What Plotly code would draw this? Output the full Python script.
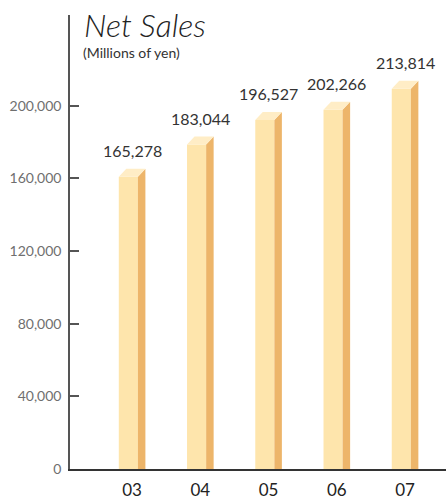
import plotly.graph_objects as go

# Net sales by fiscal year (millions of yen)
years = ["03", "04", "05", "06", "07"]
net_sales = [165278, 183044, 196527, 202266, 213814]
y_ticks = [0, 40000, 80000, 120000, 160000, 200000]

FRONT = "#FEE5AC"
SIDE = "#EDB56A"
TOP = "#FFEDC6"

front_w = 0.28      # width of the front face (x units)
side_w = 0.11       # horizontal depth of the side face (x units)
depth_y = 4400      # vertical depth of the top face (y units)

fig = go.Figure()

for i, v in enumerate(net_sales):
    x0 = i - (front_w + side_w) / 2
    x1 = x0 + front_w
    x2 = x1 + side_w
    yf = v - depth_y
    # front face
    fig.add_trace(go.Scatter(
        x=[x0, x1, x1, x0, x0], y=[0, 0, yf, yf, 0],
        fill="toself", fillcolor=FRONT, mode="none", hoverinfo="skip"))
    # side face
    fig.add_trace(go.Scatter(
        x=[x1, x2, x2, x1, x1], y=[0, 0, v, yf, 0],
        fill="toself", fillcolor=SIDE, mode="none", hoverinfo="skip"))
    # top face
    fig.add_trace(go.Scatter(
        x=[x0, x1, x2, x0 + side_w, x0], y=[yf, yf, v, v, yf],
        fill="toself", fillcolor=TOP, mode="none", hoverinfo="skip"))

    # value label above the bar
    fig.add_annotation(
        x=i, y=v, xref="x", yref="y", xanchor="center", yanchor="bottom",
        yshift=7, showarrow=False, text=f"{v:,}",
        font=dict(family="Lato", size=16, color="#333333"))

fig.update_layout(
    width=446, height=501,
    margin=dict(l=70, r=0, t=15, b=32, autoexpand=False),
    paper_bgcolor="white", plot_bgcolor="white",
    showlegend=False,
    xaxis=dict(
        range=[-0.91, 4.60], automargin=False,
        tickmode="array", tickvals=list(range(len(years))), ticktext=years,
        showgrid=False, zeroline=False,
        showline=True, linecolor="#333333", linewidth=1.5,
        ticks="", ticklabelstandoff=5,
        tickfont=dict(family="Lato", size=17, color="#222222"),
    ),
    yaxis=dict(
        range=[0, 250000], automargin=False,
        tickmode="array", tickvals=y_ticks,
        ticktext=[f"{t:,}" for t in y_ticks],
        showgrid=False, zeroline=False,
        showline=True, linecolor="#555555", linewidth=1.5,
        ticks="inside", ticklen=9, tickcolor="#555555", tickwidth=1.5,
        ticklabelstandoff=4,
        tickfont=dict(family="Lato", size=14, color="#6f6f6f"),
    ),
)

# chart title and unit note, placed in the top-left corner of the plot
fig.add_annotation(
    x=0.032, y=1.026, xref="paper", yref="paper", xanchor="left", yanchor="top",
    text="<i>Net Sales</i>", showarrow=False,
    font=dict(family="Lato", size=32, color="#222222", weight=300))
fig.add_annotation(
    x=0.03, y=0.94, xref="paper", yref="paper", xanchor="left", yanchor="top",
    text="(Millions of yen)", showarrow=False,
    font=dict(family="Lato", size=14, color="#333333"))

fig.write_html("out.html")
